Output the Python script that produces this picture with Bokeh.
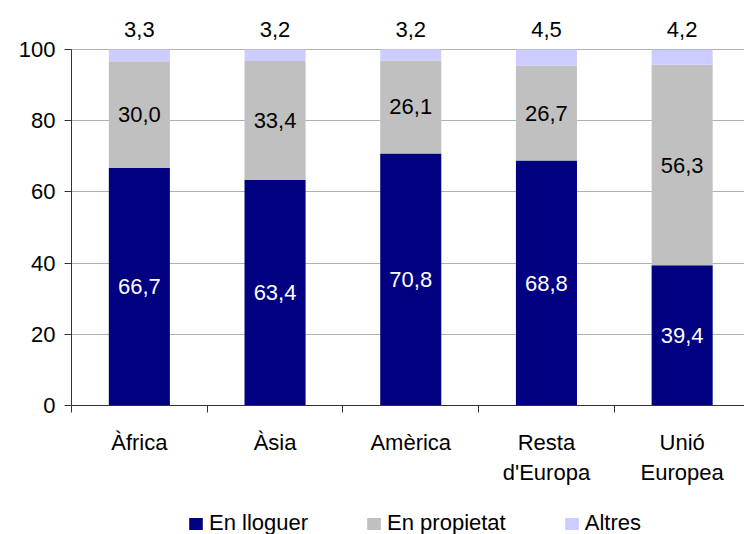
from bokeh.plotting import figure
from bokeh.models import (Range1d, FixedTicker, Legend, LegendItem, ColumnDataSource,
                          Plot, VBar, GlyphRenderer)
from bokeh.layouts import column
from bokeh.core.properties import value
from bokeh.embed import file_html
from bokeh.resources import INLINE

# ---- data ----
categories = ["Àfrica", "Àsia", "Amèrica", "Resta\nd'Europa", "Unió\nEuropea"]
lloguer = [66.7, 63.4, 70.8, 68.8, 39.4]
propietat = [30.0, 33.4, 26.1, 26.7, 56.3]
altres = [3.3, 3.2, 3.2, 4.5, 4.2]
series_names = ["En lloguer", "En propietat", "Altres"]
y_ticks = [0, 20, 40, 60, 80, 100]

# ---- style ----
FONT = "Liberation Sans"
FS = "22px"
colors = ["#000080", "#C0C0C0", "#CCCCFF"]
AXIS_COLOR = "#333333"
GRID_COLOR = "#b0b0b0"
stackers = ["lloguer", "propietat", "altres"]

xs = list(range(len(categories)))
src = ColumnDataSource(dict(x=xs, lloguer=lloguer, propietat=propietat, altres=altres))

p = figure(width=744, height=500, output_backend="svg", toolbar_location=None,
           x_range=Range1d(-0.5, 4.4595), y_range=Range1d(0, 113.76),
           min_border_left=71, min_border_right=0, min_border_top=0,
           min_border_bottom=95)
p.outline_line_color = None
p.background_fill_color = "white"
p.border_fill_color = "white"

renderers = p.vbar_stack(stackers, x="x", width=0.45,
                         fill_color=colors, line_color=None, source=src)

def fmt(v):
    return f"{v:.1f}".replace(".", ",")

mid_ll = [v / 2 for v in lloguer]
mid_pr = [a + b / 2 for a, b in zip(lloguer, propietat)]
p.text(x=xs, y=mid_ll, text=[fmt(v) for v in lloguer], text_color="white",
       text_font=value(FONT), text_font_size=FS, text_align="center",
       text_baseline="middle")
p.text(x=xs, y=mid_pr, text=[fmt(v) for v in propietat], text_color="black",
       text_font=value(FONT), text_font_size=FS, text_align="center",
       text_baseline="middle")
top_y = [105.7] * len(xs)
p.text(x=xs, y=top_y, text=[fmt(v) for v in altres], text_color="black",
       text_font=value(FONT), text_font_size=FS, text_align="center",
       text_baseline="middle")

# y axis
p.yaxis.ticker = FixedTicker(ticks=y_ticks)
p.yaxis.bounds = (0, 100)
p.yaxis.axis_line_color = AXIS_COLOR
p.yaxis.major_tick_line_color = AXIS_COLOR
p.yaxis.major_tick_out = 7
p.yaxis.major_tick_in = 0
p.yaxis.minor_tick_line_color = None
p.yaxis.major_label_standoff = 9
p.yaxis.major_label_text_font = FONT
p.yaxis.major_label_text_font_size = FS
p.yaxis.major_label_text_color = "black"

p.ygrid.ticker = FixedTicker(ticks=y_ticks)
p.ygrid.grid_line_color = GRID_COLOR
p.xgrid.grid_line_color = None

# x axis
p.xaxis.ticker = FixedTicker(ticks=xs, minor_ticks=[i - 0.5 for i in range(len(xs) + 1)])
p.xaxis.major_label_overrides = {i: c for i, c in enumerate(categories)}
p.xaxis.axis_line_color = AXIS_COLOR
p.xaxis.major_tick_line_color = None
p.xaxis.major_tick_out = 0
p.xaxis.major_tick_in = 0
p.xaxis.minor_tick_line_color = AXIS_COLOR
p.xaxis.minor_tick_out = 7
p.xaxis.minor_tick_in = 0
p.xaxis.major_label_standoff = 17
p.xaxis.major_label_text_font = FONT
p.xaxis.major_label_text_font_size = FS
p.xaxis.major_label_text_color = "black"
p.xaxis.major_label_text_line_height = 1.2

# ---- legend strip: a bare Plot (no axes, no grids) holding zero-height proxies ----
p2 = Plot(width=744, height=34, output_backend="svg", toolbar_location=None,
          x_range=Range1d(-0.5, 4.4595), y_range=Range1d(0, 1),
          min_border_left=71, min_border_right=0, min_border_top=0, min_border_bottom=0,
          outline_line_color=None, background_fill_color="white",
          border_fill_color="white")
leg_renderers = []
for col in colors:
    glyph = VBar(x="x", width=0.45, bottom=0, top=0, fill_color=col, line_color=None)
    r = GlyphRenderer(data_source=src, glyph=glyph)
    p2.renderers.append(r)
    leg_renderers.append(r)
legend = Legend(items=[LegendItem(label=n, renderers=[r]) for n, r in zip(series_names, leg_renderers)],
                location=(116, -2), orientation="horizontal", padding=0, margin=0,
                spacing=57, glyph_width=17, glyph_height=15, label_standoff=5,
                label_text_font=FONT, label_text_font_size=FS,
                label_text_color="black",
                border_line_color=None, background_fill_alpha=0)
p2.add_layout(legend)

layout = column(p, p2, spacing=0)
open("out.html", "w").write(file_html(layout, INLINE))
